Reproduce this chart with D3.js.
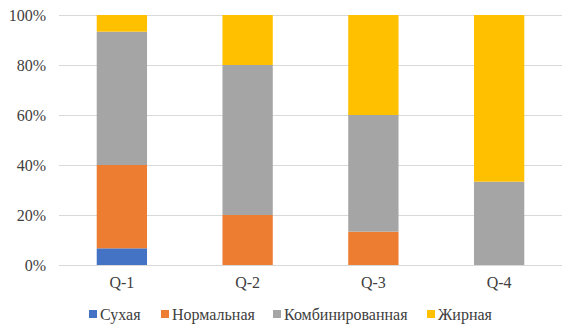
<!DOCTYPE html>
<html>
<head>
<meta charset="utf-8">
<script src="https://cdn.jsdelivr.net/npm/d3@7"></script>
<style>
  body { margin: 0; background: #fff; }
  svg text { font-family: 'Liberation Serif', 'Times New Roman', Times, 'DejaVu Serif', serif; fill: #404040; }
</style>
</head>
<body>
<div id="chart"></div>
<script>
// Categories and series (share of answers, %)
const categories = ["Q-1", "Q-2", "Q-3", "Q-4"];
const seriesNames = ["Сухая", "Нормальная", "Комбинированная", "Жирная"];
const dry = [6.67, 0, 0, 0];
const normal = [33.33, 20, 13.33, 0];
const combined = [53.33, 60, 46.67, 33.33];
const oily = [6.67, 20, 40, 66.67];
const yTicks = [0, 20, 40, 60, 80, 100];
const colors = ["#4472C4", "#ED7D31", "#A5A5A5", "#FFC000"];

const width = 576, height = 335;
const margin = { top: 15, right: 14, bottom: 70, left: 59 };
const fontFamily = "'Liberation Serif', 'Times New Roman', 'DejaVu Serif', serif";

const svg = d3.select("#chart").append("svg")
    .attr("width", width)
    .attr("height", height)
    .attr("font-family", fontFamily);

const innerW = width - margin.left - margin.right;
const innerH = height - margin.top - margin.bottom;

const g = svg.append("g")
    .attr("transform", `translate(${margin.left},${margin.top})`);

// build rows for the stack
const rows = categories.map((c, i) => ({
    cat: c,
    "Сухая": dry[i],
    "Нормальная": normal[i],
    "Комбинированная": combined[i],
    "Жирная": oily[i]
}));

const stack = d3.stack().keys(seriesNames);
const layers = stack(rows);

const x = d3.scaleBand()
    .domain(categories)
    .range([0, innerW])
    .paddingInner(0.6)
    .paddingOuter(0.3);

const y = d3.scaleLinear()
    .domain([0, 100])
    .range([innerH, 0]);

const color = d3.scaleOrdinal().domain(seriesNames).range(colors);

// gridlines
g.selectAll(".grid")
    .data(yTicks)
    .enter().append("line")
    .attr("class", "grid")
    .attr("x1", 0)
    .attr("x2", innerW)
    .attr("y1", d => Math.round(y(d)) + 0.5)
    .attr("y2", d => Math.round(y(d)) + 0.5)
    .attr("stroke", "#D9D9D9")
    .attr("stroke-width", 1);

// y tick labels
g.selectAll(".ylabel")
    .data(yTicks)
    .enter().append("text")
    .attr("class", "ylabel")
    .attr("x", -13)
    .attr("y", d => y(d))
    .attr("dy", "0.35em")
    .attr("text-anchor", "end")
    .style("font-size", "16px")
    .text(d => d + "%");

// bars
g.selectAll(".layer")
    .data(layers)
    .enter().append("g")
    .attr("class", "layer")
    .attr("fill", d => color(d.key))
    .selectAll("rect")
    .data(d => d)
    .enter().append("rect")
    .attr("x", d => x(d.data.cat))
    .attr("width", x.bandwidth())
    .attr("y", d => y(d[1]))
    .attr("height", d => y(d[0]) - y(d[1]));

// x labels
g.selectAll(".xlabel")
    .data(categories)
    .enter().append("text")
    .attr("class", "xlabel")
    .attr("x", d => x(d) + x.bandwidth() / 2)
    .attr("y", innerH + 23)
    .attr("text-anchor", "middle")
    .style("font-size", "16px")
    .text(d => d);

// legend
const legendX = [89, 161, 273, 427];
const legend = svg.append("g").attr("class", "legend");
const items = legend.selectAll(".item")
    .data(seriesNames)
    .enter().append("g")
    .attr("class", "item")
    .attr("transform", (d, i) => `translate(${legendX[i]},${height - 21})`);

items.append("rect")
    .attr("x", 0)
    .attr("y", -4)
    .attr("width", 8)
    .attr("height", 8)
    .attr("fill", d => color(d));

items.append("text")
    .attr("x", 11)
    .attr("y", 0)
    .attr("dy", "0.35em")
    .style("font-size", "16px")
    .text(d => d);
</script>
</body>
</html>
